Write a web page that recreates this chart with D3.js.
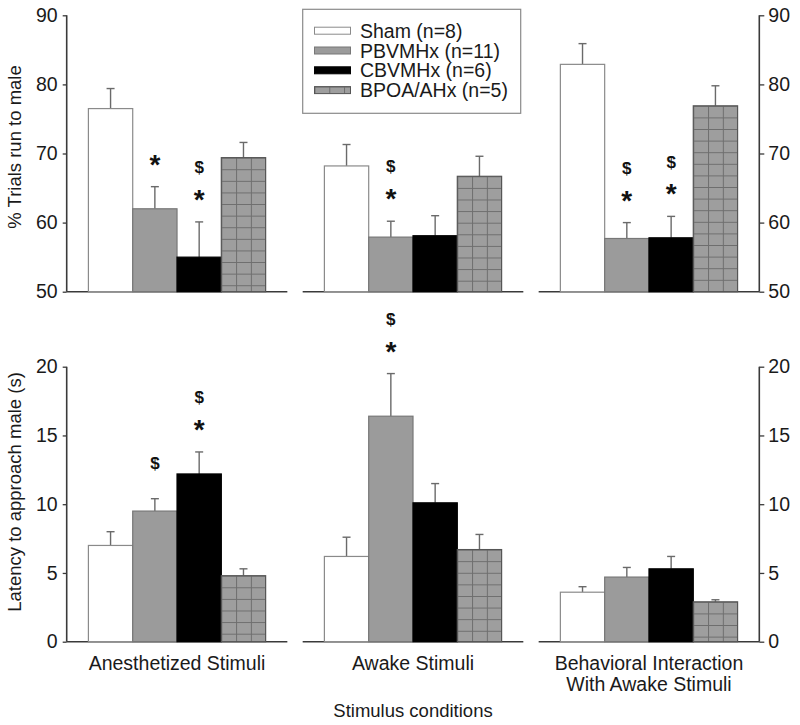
<!DOCTYPE html>
<html>
<head>
<meta charset="utf-8">
<script src="https://cdn.jsdelivr.net/npm/d3@7/dist/d3.min.js"></script>
<style>
  html, body { margin: 0; padding: 0; background: #fff; }
  svg { display: block; font-family: "Liberation Sans", Arial, Helvetica, sans-serif; }
</style>
</head>
<body>
<svg id="chart" width="800" height="725"></svg>
<script>
// ---------- data ----------
const conditions = ["Anesthetized Stimuli", "Awake Stimuli", "Behavioral Interaction|With Awake Stimuli"];
const groups = ["Sham (n=8)", "PBVMHx (n=11)", "CBVMHx (n=6)", "BPOA/AHx (n=5)"];

// % Trials run to male : mean per condition (Sham, PBVMHx, CBVMHx, BPOA/AHx)
const trialsAnesth = [76.5, 62.0, 55.0, 69.4];
const trialsAwake  = [68.2, 57.9, 58.1, 66.7];
const trialsBehav  = [82.9, 57.7, 57.8, 76.9];
const trialsSemAnesth = [2.9, 3.2, 5.1, 2.2];
const trialsSemAwake  = [3.1, 2.3, 2.9, 2.9];
const trialsSemBehav  = [3.0, 2.3, 3.1, 2.9];

// Latency to approach male (s)
const latAnesth = [7.0, 9.5, 12.2, 4.8];
const latAwake  = [6.2, 16.4, 10.1, 6.7];
const latBehav  = [3.6, 4.7, 5.3, 2.9];
const latSemAnesth = [1.0, 0.9, 1.6, 0.5];
const latSemAwake  = [1.4, 3.1, 1.4, 1.1];
const latSemBehav  = [0.4, 0.7, 0.9, 0.15];

// significance marks (drawn bottom to top)
const trialsSig = [["", "*", "*$", ""], ["", "*$", "", ""], ["", "*$", "*$", ""]];
const latSig    = [["", "$", "*$", ""], ["", "*$", "", ""], ["", "", "", ""]];

const trialsTicks = [50, 60, 70, 80, 90];
const latTicks = [0, 5, 10, 15, 20];

// ---------- layout ----------
const svg = d3.select("#chart");
const axisColor = "#3a3a3a";
const textColor = "#1a1a1a";
const fills = ["#ffffff", "#9b9b9b", "#000000", "#9b9b9b"];
const strokes = ["#8a8a8a", "#777777", "#000000", "#555555"];

const x0 = d3.scaleBand().domain(conditions).range([66.7, 759.3]).paddingInner(0.065).paddingOuter(0);
const x1 = d3.scaleBand().domain(groups).range([0, x0.bandwidth()]).paddingInner(0).paddingOuter(0.49);

const defs = svg.append("defs");
let patId = 0;
function gridPattern(xStart, yBase) {
  const id = "grid" + (patId++);
  const w = x1.bandwidth() / 3, h = 11.6;
  const p = defs.append("pattern").attr("id", id)
    .attr("patternUnits", "userSpaceOnUse")
    .attr("x", xStart).attr("y", yBase).attr("width", w).attr("height", h);
  p.append("rect").attr("width", w).attr("height", h).attr("fill", "#9e9e9e");
  p.append("path").attr("d", `M0,0.5H${w}M0.5,0V${h}`).attr("stroke", "#6e6e6e").attr("stroke-width", 1).attr("fill", "none");
  return "url(#" + id + ")";
}

function drawPanelRow(cfg) {
  const y = d3.scaleLinear().domain(cfg.domain).range(cfg.range);
  const g = svg.append("g");
  const yBase = y(cfg.domain[0]);

  conditions.forEach((c, ci) => {
    const px = x0(c);
    // baseline
    g.append("line").attr("x1", px).attr("x2", px + x0.bandwidth())
      .attr("y1", yBase).attr("y2", yBase).attr("stroke", axisColor).attr("stroke-width", 1.6);

    groups.forEach((gr, gi) => {
      const v = cfg.means[ci][gi], e = cfg.sems[ci][gi];
      const bx = px + x1(gr), bw = x1.bandwidth();
      const top = y(v), errTop = y(v + e);
      const cx = bx + bw / 2;
      // error bar
      g.append("line").attr("x1", cx).attr("x2", cx).attr("y1", top).attr("y2", errTop)
        .attr("stroke", "#6a6a6a").attr("stroke-width", 1.4);
      g.append("line").attr("x1", cx - 4).attr("x2", cx + 4).attr("y1", errTop).attr("y2", errTop)
        .attr("stroke", "#6a6a6a").attr("stroke-width", 1.4);
      // bar
      g.append("rect").attr("x", bx).attr("y", top).attr("width", bw).attr("height", yBase - top)
        .attr("fill", gi === 3 ? gridPattern(bx, top) : fills[gi])
        .attr("stroke", strokes[gi]).attr("stroke-width", 1.2);
      // significance marks
      const marks = cfg.sig[ci][gi];
      let cy = errTop;
      [...marks].forEach((m, mi) => {
        if (m === "*") {
          cy -= 29;
          g.append("text").attr("x", cx).attr("y", cy + 0.57 * 28).attr("text-anchor", "middle")
            .attr("font-size", 28).attr("font-weight", "bold").attr("fill", "#111").text("*");
        } else {
          cy -= (mi === 0 ? 36 : 26);
          g.append("text").attr("x", cx).attr("y", cy + 0.36 * 17).attr("text-anchor", "middle")
            .attr("font-size", 17).attr("font-weight", "bold").attr("fill", "#111").text("$");
        }
      });
    });
  });

  // left axis
  const left = g.append("g").attr("transform", `translate(${x0.range()[0]},0)`)
    .call(d3.axisLeft(y).tickValues(cfg.ticks).tickSize(4).tickPadding(5));
  // right axis
  const right = g.append("g").attr("transform", `translate(${x0.range()[1]},0)`)
    .call(d3.axisRight(y).tickValues(cfg.ticks).tickSize(5).tickPadding(4));
  [left, right].forEach(a => {
    a.select(".domain").remove();
    a.selectAll(".tick line").attr("stroke", axisColor).attr("stroke-width", 1.3);
    a.selectAll(".tick text").attr("font-size", 19.5).attr("fill", textColor).attr("font-family", "Liberation Sans, Arial, sans-serif");
    a.append("line").attr("x1", 0).attr("x2", 0).attr("y1", cfg.range[1]).attr("y2", cfg.range[0])
      .attr("stroke", axisColor).attr("stroke-width", 1.6);
  });

  // y title
  svg.append("text").attr("transform", `translate(${cfg.titleX},${cfg.titleY}) rotate(-90)`)
    .attr("text-anchor", "middle").attr("font-size", cfg.titleSize).attr("fill", textColor).text(cfg.title);
}

drawPanelRow({
  domain: [50, 90], range: [291.7, 15.3], ticks: trialsTicks,
  means: [trialsAnesth, trialsAwake, trialsBehav],
  sems: [trialsSemAnesth, trialsSemAwake, trialsSemBehav],
  sig: trialsSig, title: "% Trials run to male", titleX: 21, titleY: 147, titleSize: 18.5
});
drawPanelRow({
  domain: [0, 20], range: [641.7, 366.7], ticks: latTicks,
  means: [latAnesth, latAwake, latBehav],
  sems: [latSemAnesth, latSemAwake, latSemBehav],
  sig: latSig, title: "Latency to approach male (s)", titleX: 21, titleY: 492, titleSize: 18.5
});

// category labels
conditions.forEach(c => {
  const lines = c.split("|");
  const t = svg.append("text").attr("text-anchor", "middle").attr("font-size", 19.5).attr("fill", textColor);
  lines.forEach((l, i) => {
    t.append("tspan").attr("x", x0(c) + x0.bandwidth() / 2).attr("y", 670 + i * 21).text(l);
  });
});
svg.append("text").attr("x", x0(conditions[1]) + x0.bandwidth() / 2).attr("y", 717)
  .attr("text-anchor", "middle").attr("font-size", 18.5).attr("fill", textColor).text("Stimulus conditions");

// legend
const lg = svg.append("g");
lg.append("rect").attr("x", 302.7).attr("y", 9.3).attr("width", 218).attr("height", 104)
  .attr("fill", "#fff").attr("stroke", "#8a8a8a").attr("stroke-width", 1.2);
groups.forEach((gr, i) => {
  const cy = 30.7 + i * 19.8;
  lg.append("rect").attr("x", 314.5).attr("y", cy - 3.5).attr("width", 36).attr("height", 7)
    .attr("fill", i === 3 ? gridPattern(314.5, cy - 3.5) : fills[i]).attr("stroke", strokes[i]).attr("stroke-width", 1);
  lg.append("text").attr("x", 360).attr("y", cy + 7).attr("font-size", 19.5).attr("fill", textColor).text(gr);
});
</script>
</body>
</html>
